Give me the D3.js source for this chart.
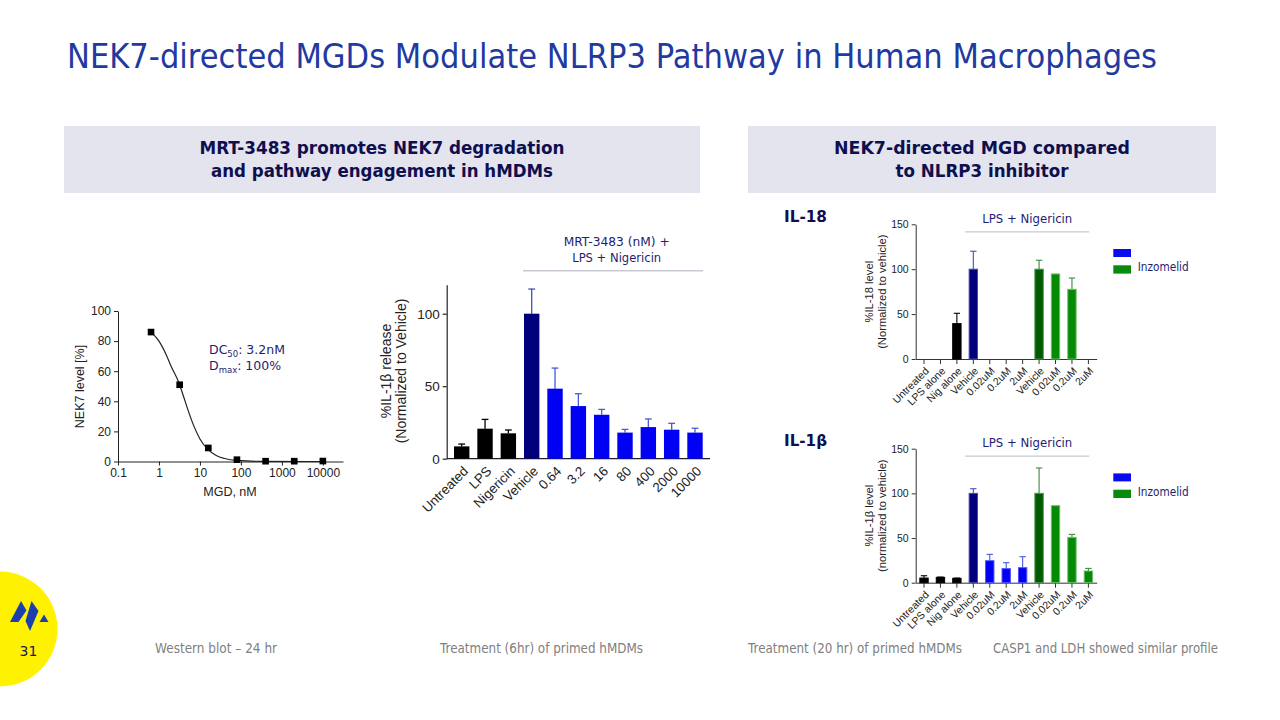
<!DOCTYPE html>
<html><head><meta charset="utf-8">
<script src="https://cdn.jsdelivr.net/npm/d3@7"></script>
<style>body{margin:0;background:#fff}svg{display:block}</style>
</head><body>
<svg id="c" width="1280" height="720"></svg>
<script>
// ---------------- DATA ----------------
const titleText = "NEK7-directed MGDs Modulate NLRP3 Pathway in Human Macrophages";
const leftHeader = ["MRT-3483 promotes NEK7 degradation", "and pathway engagement in hMDMs"];
const rightHeader = ["NEK7-directed MGD compared", "to NLRP3 inhibitor"];

// Dose-response (Western blot)
const doseConc = [0.64, 3.2, 16, 80, 400, 2000, 10000];
const doseNEK7 = [86, 51, 9, 1.2, 0.2, 0.2, 0.3];
// fitted curve
const fitConc = [0.64, 1, 1.5, 2, 3, 4, 5, 7, 10, 15, 25, 40, 80, 300, 10000];
const fitNEK7 = [86, 80, 71, 63, 53, 43, 35, 24, 15, 8.5, 4, 2, 0.7, 0.1, 0];
const doseXTicks = [0.1, 1, 10, 100, 1000, 10000];
const doseYTicks = [0, 20, 40, 60, 80, 100];

// IL-1β release (6 hr)
const midCats = ["Untreated", "LPS", "Nigericin", "Vehicle", "0.64", "3.2", "16", "80", "400", "2000", "10000"];
const midVals = [8.5, 20.7, 17.5, 100, 48.3, 36.3, 30.3, 18, 21.8, 20, 18];
const midErr  = [1.6, 6.4, 2.3, 17, 14.2, 8.5, 3.7, 2.2, 5.6, 4.4, 3];
const midGroup = ["ctl", "ctl", "ctl", "veh", "mgd", "mgd", "mgd", "mgd", "mgd", "mgd", "mgd"];
const midYTicks = [0, 50, 100];

// Right panels (20 hr)
const rCats = ["Untreated", "LPS alone", "Nig alone", "Vehicle", "0.02uM", "0.2uM", "2uM", "Vehicle", "0.02uM", "0.2uM", "2uM"];
const rGroup = ["ctl", "ctl", "ctl", "veh", "mgd", "mgd", "mgd", "inzVeh", "inz", "inz", "inz"];
const il18Vals = [null, null, 39.4, 100, null, null, null, 100, 94.7, 77.6, null];
const il18Err  = [null, null, 11.5, 20, null, null, null, 10, 0, 12.6, null];
const il1bVals = [5.2, 6, 4.9, 100, 24.6, 15.7, 16.8, 100, 86.2, 50.7, 13.1];
const il1bErr  = [2.6, 0.3, 0.3, 5.2, 7.1, 6.7, 12.3, 28.4, 0, 3.4, 2.9];
const rYTicks = [0, 50, 100, 150];
const legendLabels = ["", "Inzomelid"];

const footers = [
  {t: "Western blot \u2013 24 hr", x: 155, w: 122},
  {t: "Treatment (6hr) of primed hMDMs", x: 440, w: 203},
  {t: "Treatment (20 hr) of primed hMDMs", x: 748, w: 214},
  {t: "CASP1 and LDH showed similar profile", x: 993, w: 225}
];

// ---------------- STYLE ----------------
const ARIAL = "Liberation Sans, Arial, sans-serif";
const TAHOMA = "DejaVu Sans, Verdana, sans-serif";
const NAVY = "#141460";
const fillC = {ctl: "#000000", veh: "#00007a", mgd: "#0000f5", inzVeh: "#005a00", inz: "#058a05"};
const strokeC = {ctl: "#000000", veh: "#4a4aa8", mgd: "#5050ff", inzVeh: "#4a8f4a", inz: "#6cbf6c"};
const errC = {ctl: "#000000", veh: "#4450b8", mgd: "#4a5ad8", inzVeh: "#3d8a3d", inz: "#3d8a3d"};

const svg = d3.select("#c");

function fitText(g, x, y, s, o) {
  const t = g.append("text").attr("x", x).attr("y", y)
    .attr("font-family", o.family || TAHOMA).attr("font-size", o.size)
    .attr("fill", o.fill || NAVY).attr("text-anchor", o.anchor || "start")
    .attr("font-weight", o.weight || "normal").text(s);
  if (o.len) t.attr("textLength", o.len).attr("lengthAdjust", "spacingAndGlyphs");
  return t;
}

// Title
fitText(svg, 67, 68, titleText, {size: 33, fill: "#1f3aa0", len: 1090});

// Header boxes
[[64, 700, leftHeader, [365, 342]], [748, 1216, rightHeader, [296, 173]]].forEach(([x0, x1, lines, lens]) => {
  svg.append("rect").attr("x", x0).attr("y", 126).attr("width", x1 - x0).attr("height", 67).attr("fill", "#e3e4ed");
  lines.forEach((l, i) => fitText(svg, (x0 + x1) / 2, 154 + i * 23, l,
    {size: 17, weight: "bold", anchor: "middle", fill: "#0f0f4f", len: lens[i]}));
});

// ---------------- LEFT: dose response ----------------
{
  const g = svg.append("g");
  const x = d3.scaleLog().domain([0.1, 31000]).range([118, 343]);
  const y = d3.scaleLinear().domain([0, 100]).range([461.5, 311]);
  const xa = g.append("g").attr("transform", "translate(0,461.5)")
    .call(d3.axisBottom(x).tickValues(doseXTicks).tickFormat(d => String(d)).tickSize(4).tickSizeOuter(0));
  const ya = g.append("g").attr("transform", "translate(118,0)")
    .call(d3.axisLeft(y).tickValues(doseYTicks).tickSize(4).tickSizeOuter(0));
  [xa, ya].forEach(a => { a.selectAll("text").attr("font-family", ARIAL).attr("font-size", 12).attr("fill", "#222");
    a.selectAll("line,path").attr("stroke", "#222"); });
  g.append("path").datum(fitConc.map((c, i) => [c, fitNEK7[i]]))
    .attr("d", d3.line().x(d => x(d[0])).y(d => y(d[1])).curve(d3.curveMonotoneX))
    .attr("fill", "none").attr("stroke", "#222").attr("stroke-width", 1.2);
  g.selectAll(".pt").data(doseConc).join("path")
    .attr("transform", (d, i) => `translate(${x(d)},${y(doseNEK7[i])})`)
    .attr("d", d3.symbol(d3.symbolSquare, 44)).attr("fill", "#000");
  g.append("text").attr("x", 230).attr("y", 496).attr("text-anchor", "middle")
    .attr("font-family", ARIAL).attr("font-size", 12.5).attr("fill", "#222").text("MGD, nM");
  g.append("text").attr("transform", "translate(84,386.5) rotate(-90)").attr("text-anchor", "middle")
    .attr("font-family", ARIAL).attr("font-size", 12.5).attr("fill", "#222").text("NEK7 level [%]");
  const t1 = g.append("text").attr("x", 209).attr("y", 354).attr("font-family", TAHOMA).attr("font-size", 12.5).attr("fill", "#1e1e70");
  t1.append("tspan").text("DC");
  t1.append("tspan").attr("font-size", 8.5).attr("dy", 3).text("50");
  t1.append("tspan").attr("dy", -3).text(": 3.2nM");
  const t2 = g.append("text").attr("x", 209).attr("y", 370).attr("font-family", TAHOMA).attr("font-size", 12.5).attr("fill", "#1e1e70");
  t2.append("tspan").text("D");
  t2.append("tspan").attr("font-size", 8.5).attr("dy", 3).text("max");
  t2.append("tspan").attr("dy", -3).text(": 100%");
}

// ---------------- MIDDLE: IL-1β release ----------------
{
  const g = svg.append("g");
  const x = d3.scaleBand().domain(d3.range(midCats.length)).range([446.7, 710]).paddingInner(0.34).paddingOuter(0.313);
  const y = d3.scaleLinear().domain([0, 120]).range([458.7, 284.7]);
  const ya = g.append("g").attr("transform", "translate(446.7,0)")
    .call(d3.axisLeft(y).tickValues(midYTicks).tickSize(4).tickSizeOuter(0));
  ya.selectAll("text").attr("font-family", ARIAL).attr("font-size", 13.5).attr("fill", "#222");
  ya.selectAll("line,path").attr("stroke", "#222").attr("stroke-width", 1.2);
  g.append("line").attr("x1", x.range()[0]).attr("x2", x.range()[1]).attr("y1", y(0)).attr("y2", y(0))
    .attr("stroke", "#222").attr("stroke-width", 1.2);
  // error bars
  g.selectAll(".eb").data(midVals).join("g").each(function (v, i) {
    const cx = x(i) + x.bandwidth() / 2, c = errC[midGroup[i]];
    const s = d3.select(this);
    s.append("line").attr("x1", cx).attr("x2", cx).attr("y1", y(v)).attr("y2", y(v + midErr[i])).attr("stroke", c).attr("stroke-width", 1.3);
    s.append("line").attr("x1", cx - 3.4).attr("x2", cx + 3.4).attr("y1", y(v + midErr[i])).attr("y2", y(v + midErr[i])).attr("stroke", c).attr("stroke-width", 1.3);
  });
  g.selectAll(".bar").data(midVals).join("rect")
    .attr("x", (d, i) => x(i)).attr("width", x.bandwidth())
    .attr("y", d => y(d)).attr("height", d => y(0) - y(d))
    .attr("fill", (d, i) => fillC[midGroup[i]]);
  g.selectAll(".xl").data(midCats).join("text")
    .attr("transform", (d, i) => `translate(${x(i) + x.bandwidth() / 2 + 4},${y(0) + 10}) rotate(-45)`)
    .attr("text-anchor", "end").attr("dy", "0.35em")
    .attr("font-family", ARIAL).attr("font-size", 13.3).attr("fill", "#222").text(d => d);
  const yl = g.append("text").attr("transform", "translate(386,371) rotate(-90)").attr("text-anchor", "middle")
    .attr("font-family", ARIAL).attr("font-size", 14).attr("fill", "#222");
  yl.append("tspan").attr("x", 0).attr("dy", "0.35em").text("%IL-1\u03B2 release");
  yl.append("tspan").attr("x", 0).attr("dy", "1.05em").text("(Normalized to Vehicle)");
  g.append("line").attr("x1", 523).attr("x2", 703).attr("y1", 270.7).attr("y2", 270.7).attr("stroke", "#c9c9d3").attr("stroke-width", 1.5);
  fitText(g, 616.7, 246, "MRT-3483 (nM) +", {size: 13, anchor: "middle", fill: "#1e1e70", len: 106});
  fitText(g, 616.7, 261.5, "LPS + Nigericin", {size: 13, anchor: "middle", fill: "#1e1e70", len: 89});
}

// ---------------- RIGHT: IL-18 and IL-1β ----------------
function rightChart(y0, y150, vals, errs, label, yLabel1, yLabel2) {
  const g = svg.append("g");
  const x = d3.scaleBand().domain(d3.range(rCats.length)).range([915.7, 1096.7]).paddingInner(0.43).paddingOuter(0.22);
  const y = d3.scaleLinear().domain([0, 150]).range([y0, y150]);
  const ya = g.append("g").attr("transform", "translate(915.7,0)")
    .call(d3.axisLeft(y).tickValues(rYTicks).tickSize(4).tickSizeOuter(0));
  ya.selectAll("text").attr("font-family", ARIAL).attr("font-size", 10.5).attr("fill", "#222");
  ya.selectAll("line,path").attr("stroke", "#333");
  const xa = g.append("g").attr("transform", `translate(0,${y0})`)
    .call(d3.axisBottom(x).tickSize(5).tickSizeOuter(0).tickFormat(""));
  xa.selectAll("line,path").attr("stroke", "#333");
  g.selectAll(".xl").data(rCats).join("text")
    .attr("transform", (d, i) => `translate(${x(i) + x.bandwidth() / 2 + 3},${y0 + 10}) rotate(-45)`)
    .attr("text-anchor", "end").attr("dy", "0.35em")
    .attr("font-family", ARIAL).attr("font-size", 10.5).attr("fill", "#222").text(d => d);
  const idx = d3.range(rCats.length).filter(i => vals[i] != null);
  idx.forEach(i => {
    const cx = x(i) + x.bandwidth() / 2, c = errC[rGroup[i]], v = vals[i], e = errs[i];
    if (e > 0) {
      g.append("line").attr("x1", cx).attr("x2", cx).attr("y1", y(v)).attr("y2", y(v + e)).attr("stroke", c).attr("stroke-width", 1.1);
      g.append("line").attr("x1", cx - 3.2).attr("x2", cx + 3.2).attr("y1", y(v + e)).attr("y2", y(v + e)).attr("stroke", c).attr("stroke-width", 1.1);
    }
  });
  g.selectAll(".bar").data(idx).join("rect")
    .attr("x", i => x(i) + 0.5).attr("width", x.bandwidth() - 1)
    .attr("y", i => y(vals[i])).attr("height", i => y(0) - y(vals[i]))
    .attr("fill", i => fillC[rGroup[i]]).attr("stroke", i => strokeC[rGroup[i]]).attr("stroke-width", 1);
  const cy = (y0 + y150) / 2;
  const yl = g.append("text").attr("transform", `translate(869.5,${cy}) rotate(-90)`).attr("text-anchor", "middle")
    .attr("font-family", ARIAL).attr("font-size", 11.2).attr("fill", "#222");
  yl.append("tspan").attr("x", 0).attr("dy", "0.35em").text(yLabel1);
  yl.append("tspan").attr("x", 0).attr("dy", "1.15em").text(yLabel2);
  g.append("line").attr("x1", 965).attr("x2", 1089.3).attr("y1", y150 + 7.5).attr("y2", y150 + 7.5).attr("stroke", "#c9c9d3").attr("stroke-width", 1.3);
  fitText(g, 1027.3, y150 - 1.8, "LPS + Nigericin", {size: 13, anchor: "middle", fill: "#1e1e70", len: 90});
  fitText(g, 784, y150 - 2.3, label, {size: 15.5, weight: "bold", fill: "#0f0f4f", len: 43});
  // legend
  const ly = y150 + 24.7;
  g.append("rect").attr("x", 1113.3).attr("y", ly).attr("width", 17.7).attr("height", 8).attr("fill", "#0a0af0");
  g.append("rect").attr("x", 1113.3).attr("y", ly + 16.3).attr("width", 17.7).attr("height", 8.3).attr("fill", "#0a8a0a");
  fitText(g, 1137.7, ly + 4, legendLabels[0], {size: 12, fill: "#1e1e70"});
  fitText(g, 1137.7, ly + 22.3, legendLabels[1], {size: 12, fill: "#1e1e70", len: 51});
}
rightChart(359, 224.3, il18Vals, il18Err, "IL-18", "%IL-18 level", "(Normalized to vehicle)");
rightChart(582.7, 448.7, il1bVals, il1bErr, "IL-1\u03B2", "%IL-1\u03B2 level", "(normalized to vehicle)");

// ---------------- Footer & logo ----------------
svg.append("circle").attr("cx", 0).attr("cy", 629).attr("r", 57.5).attr("fill", "#fff200");
const logo = [
  [[10, 622], [21, 601], [26.5, 610.5], [18.5, 622]],
  [[25.5, 621], [31.5, 601], [38.5, 611], [30, 631]],
  [[39.5, 622], [44, 614.5], [48.5, 622]]
];
svg.selectAll(".logo").data(logo).join("polygon")
  .attr("points", d => d.map(p => p.join(",")).join(" ")).attr("fill", "#1c3fb0");
fitText(svg, 28.5, 656, "31", {size: 14, anchor: "middle", fill: "#1a1a50"});
footers.forEach(f => fitText(svg, f.x, 653, f.t, {size: 13.5, fill: "#808080", len: f.w}));
</script>
</body></html>
